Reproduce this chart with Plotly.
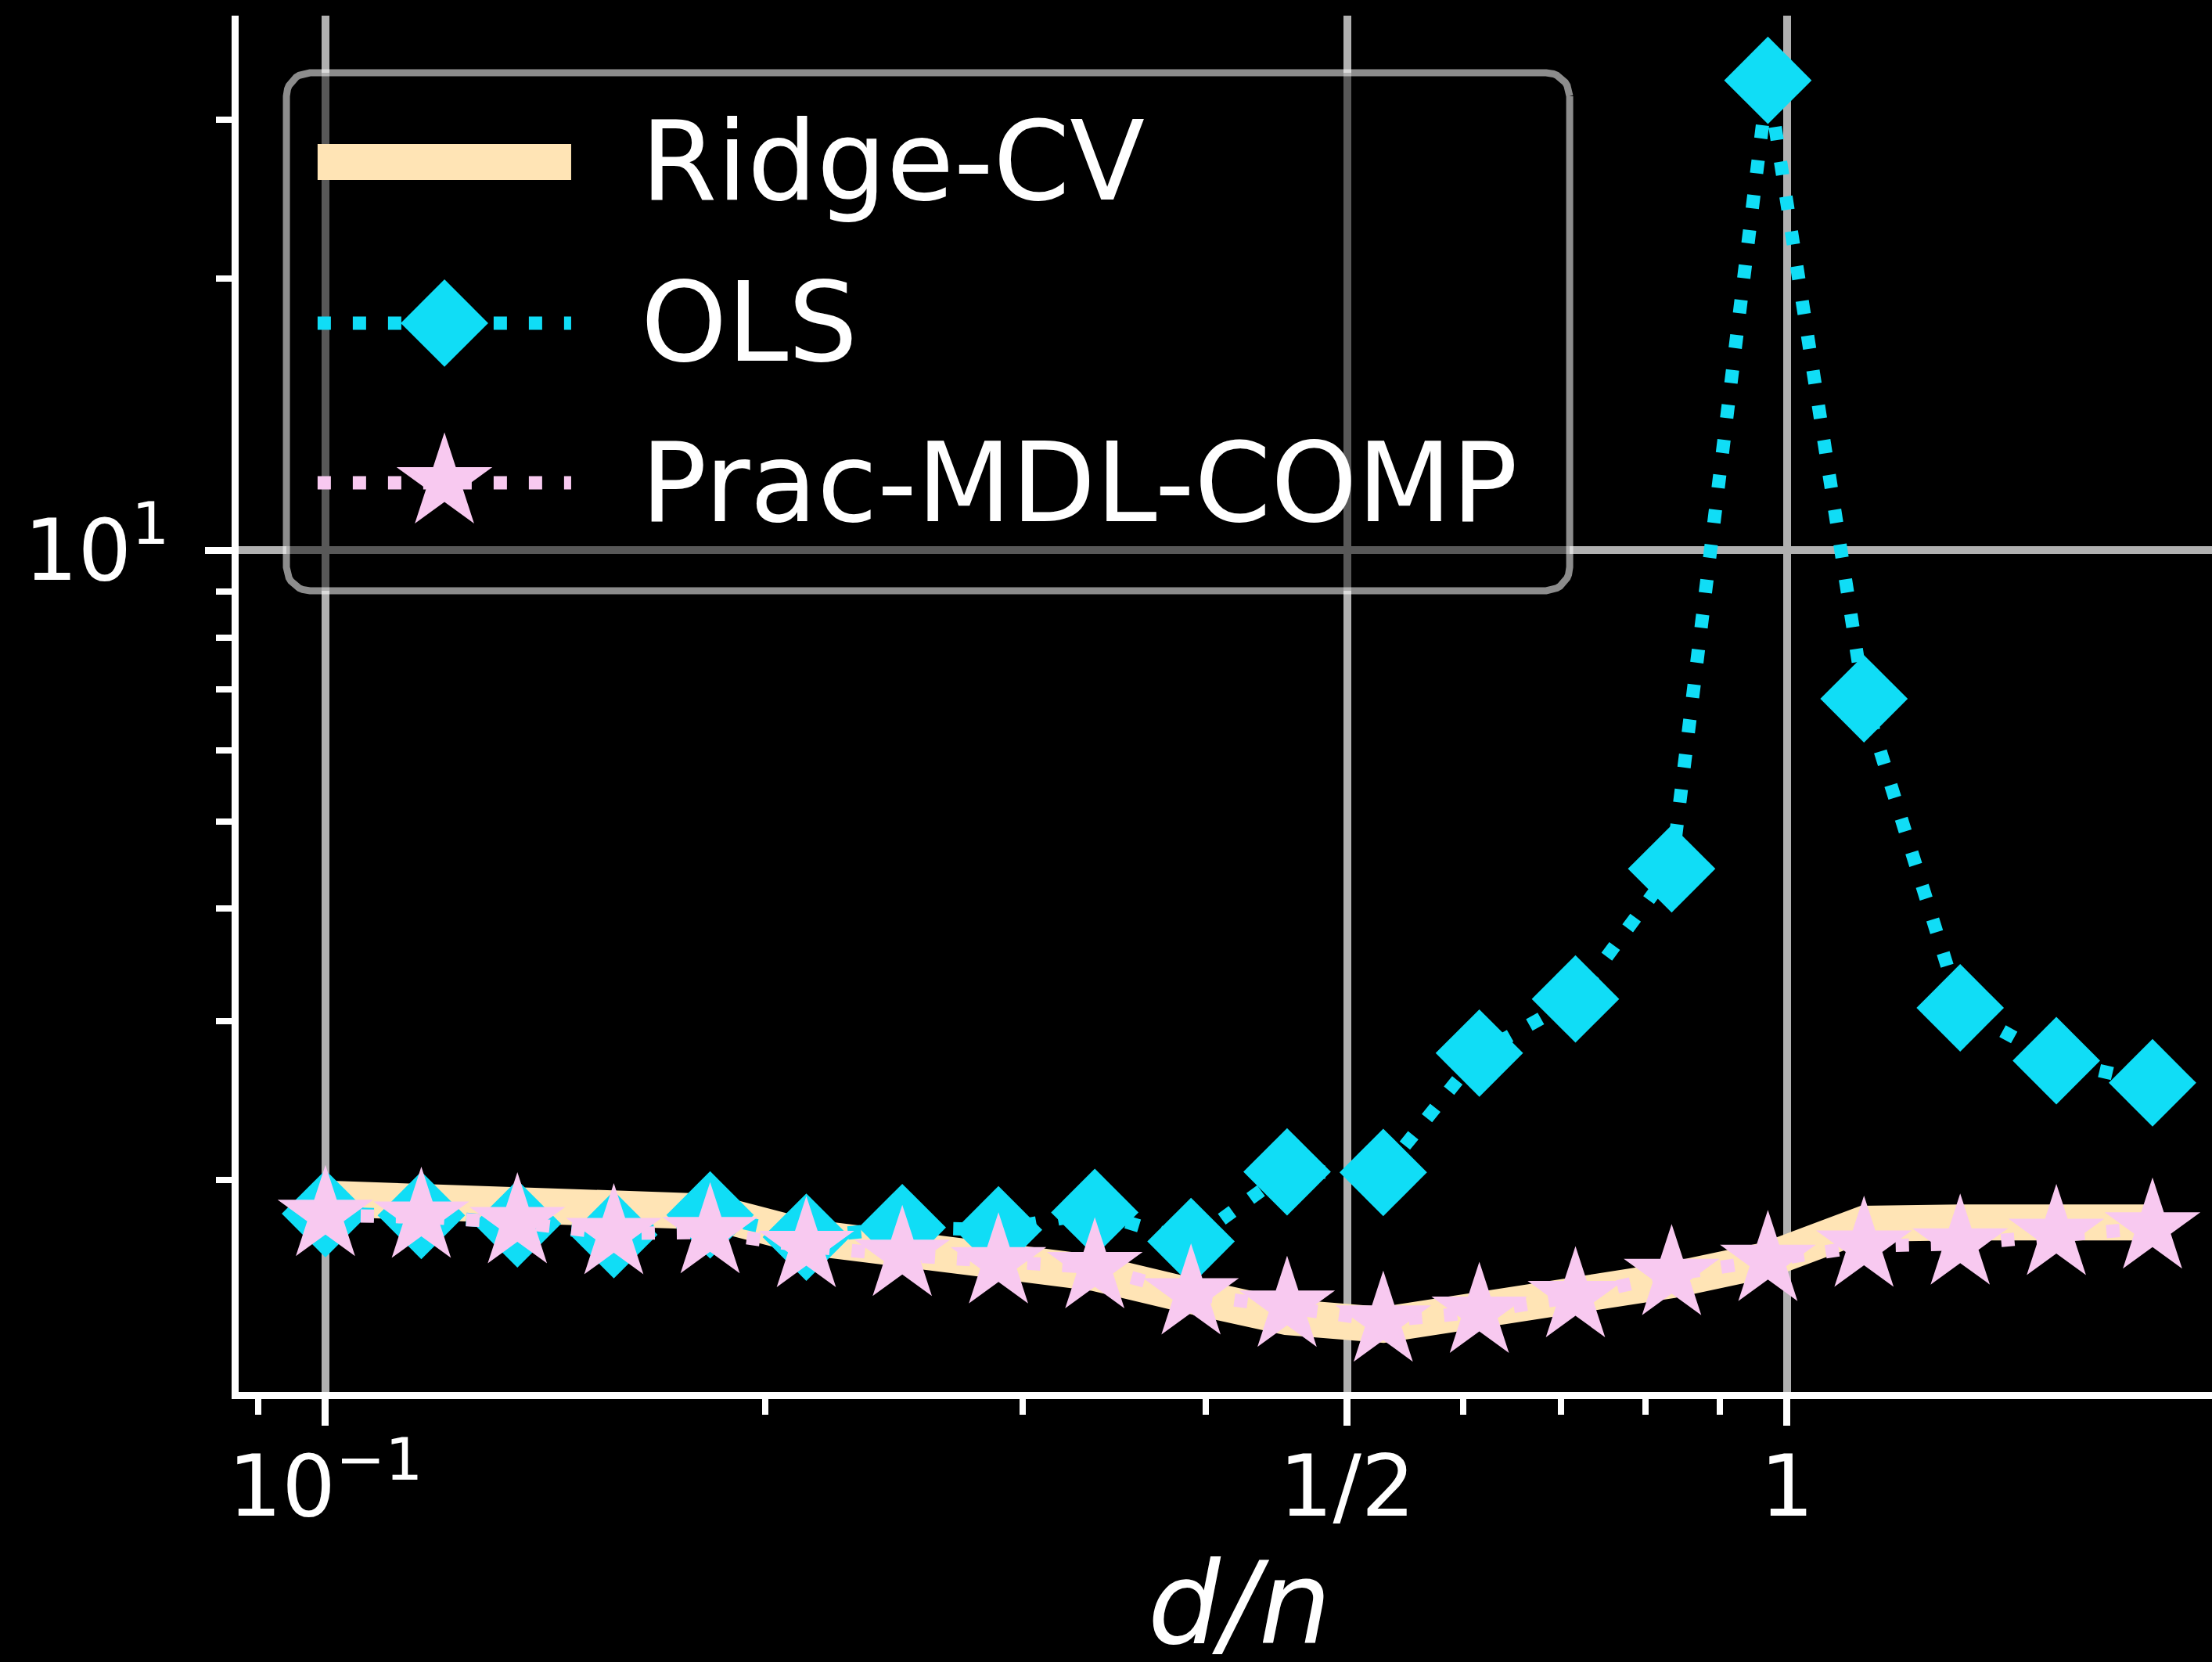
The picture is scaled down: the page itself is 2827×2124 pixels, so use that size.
import math
import plotly.graph_objects as go

# ---------------- data ----------------
d_over_n = [0.1, 0.1163, 0.1353, 0.1575, 0.1833, 0.2133, 0.2481, 0.2887, 0.3360, 0.3910,
            0.4549, 0.5293, 0.6158, 0.7165, 0.8337, 0.9702, 1.1288, 1.3135, 1.5283, 1.7783]
ridge_cv = [1.908, 1.900, 1.858, 1.862, 1.845, 1.730, 1.678, 1.600, 1.578, 1.488,
            1.410, 1.382, 1.430, 1.488, 1.549, 1.632, 1.789, 1.795, 1.795, 1.795]
ols = [1.836, 1.828, 1.789, 1.740, 1.830, 1.729, 1.772, 1.762, 1.842, 1.710,
       2.043, 2.040, 2.767, 3.177, 4.430, 33.2, 6.840, 3.106, 2.714, 2.565]
prac_mdl_comp = [1.828, 1.820, 1.795, 1.745, 1.750, 1.689, 1.651, 1.620, 1.600, 1.496,
                 1.450, 1.396, 1.428, 1.486, 1.572, 1.630, 1.690, 1.700, 1.742, 1.771]
series_names = ["Ridge-CV", "OLS", "Prac-MDL-COMP"]

x_major_ticks = [0.1, 0.5, 1]
x_major_labels = ["10<sup>\u22121</sup>", "1/2", "1"]
x_minor_ticks = [0.09, 0.2, 0.3, 0.4, 0.6, 0.7, 0.8, 0.9]
y_major_ticks = [10]
y_major_labels = ["10<sup>1</sup>"]
y_minor_ticks = [2, 3, 4, 5, 6, 7, 8, 9, 20, 30]
x_label = "<i>d/n</i>"

# ---------------- styles ----------------
W, H = 2827, 2124
FONT = "DejaVu Sans"
RIDGE_C = "#FFE4B5"
OLS_C = "#10DDF6"
PRAC_C = "#F8C9F0"
GRID_C = "#B0B0B0"
DOT_W = 17
DOT = f"{DOT_W}px,{int(DOT_W * 1.65)}px"
RIDGE_W = 46
DIAMOND_SIZE = 86
STAR_SIZE = 92

fig = go.Figure()

fig.add_trace(go.Scatter(x=d_over_n, y=ridge_cv, name=series_names[0], mode="lines",
                         line=dict(color=RIDGE_C, width=RIDGE_W), showlegend=False))
fig.add_trace(go.Scatter(x=d_over_n, y=ols, name=series_names[1], mode="lines+markers",
                         line=dict(color=OLS_C, width=DOT_W, dash=DOT),
                         marker=dict(symbol="diamond", size=DIAMOND_SIZE, color=OLS_C,
                                     line=dict(width=0)),
                         showlegend=False))
fig.add_trace(go.Scatter(x=d_over_n, y=prac_mdl_comp, name=series_names[2], mode="lines+markers",
                         line=dict(color=PRAC_C, width=DOT_W, dash=DOT),
                         marker=dict(symbol="star", size=STAR_SIZE, color=PRAC_C,
                                     line=dict(width=0)),
                         showlegend=False))

# ---------------- custom legend (overlay axes in fractions of the plot area) ----------------
LG_X0, LG_X1, LG_Y0, LG_Y1 = 0.0242, 0.6745, 0.5822, 0.9585
RX, RY = 0.0119, 0.0170


def rounded_frame(x0, x1, y0, y1, rx, ry, n=10):
    xs, ys = [], []
    corners = [(x1 - rx, y1 - ry, 0, 90), (x0 + rx, y1 - ry, 90, 180),
               (x0 + rx, y0 + ry, 180, 270), (x1 - rx, y0 + ry, 270, 360)]
    for cx, cy, a0, a1 in corners:
        for i in range(n + 1):
            a = math.radians(a0 + (a1 - a0) * i / n)
            xs.append(cx + rx * math.cos(a))
            ys.append(cy + ry * math.sin(a))
    xs.append(xs[0])
    ys.append(ys[0])
    return xs, ys


fx, fy = rounded_frame(LG_X0, LG_X1, LG_Y0, LG_Y1, RX, RY)
fig.add_trace(go.Scatter(x=fx, y=fy, xaxis="x2", yaxis="y2", mode="lines", fill="toself",
                         fillcolor="rgba(0,0,0,0.5)",
                         line=dict(color="rgba(255,255,255,0.55)", width=9),
                         showlegend=False, hoverinfo="skip"))

H_X0, H_X1, H_XM = 0.0400, 0.1685, 0.1043
ROW_Y = [0.8937, 0.7766, 0.6606]
TXT_X = 0.2030

fig.add_trace(go.Scatter(x=[H_X0, H_X1], y=[ROW_Y[0]] * 2, xaxis="x2", yaxis="y2", mode="lines",
                         line=dict(color=RIDGE_C, width=RIDGE_W), showlegend=False, hoverinfo="skip"))
fig.add_trace(go.Scatter(x=[H_X0, H_X1], y=[ROW_Y[1]] * 2, xaxis="x2", yaxis="y2", mode="lines",
                         line=dict(color=OLS_C, width=DOT_W, dash=DOT), showlegend=False, hoverinfo="skip"))
fig.add_trace(go.Scatter(x=[H_XM], y=[ROW_Y[1]], xaxis="x2", yaxis="y2", mode="markers",
                         marker=dict(symbol="diamond", size=DIAMOND_SIZE, color=OLS_C, line=dict(width=0)),
                         showlegend=False, hoverinfo="skip"))
fig.add_trace(go.Scatter(x=[H_X0, H_X1], y=[ROW_Y[2]] * 2, xaxis="x2", yaxis="y2", mode="lines",
                         line=dict(color=PRAC_C, width=DOT_W, dash=DOT), showlegend=False, hoverinfo="skip"))
fig.add_trace(go.Scatter(x=[H_XM], y=[ROW_Y[2]], xaxis="x2", yaxis="y2", mode="markers",
                         marker=dict(symbol="star", size=STAR_SIZE, color=PRAC_C, line=dict(width=0)),
                         showlegend=False, hoverinfo="skip"))

for name, yy in zip(series_names, ROW_Y):
    fig.add_annotation(text=name, x=TXT_X, y=yy, xref="x2", yref="y2", xanchor="left",
                       yanchor="middle", showarrow=False,
                       font=dict(family=FONT, size=140, color="white"))

fig.add_annotation(text=x_label, x=0.507, y=-0.104, xref="paper", yref="paper",
                   xanchor="center", yanchor="top", showarrow=False,
                   font=dict(family=FONT, size=146, color="white"))

axis_common = dict(
    type="log", showline=True, linecolor="white", linewidth=9, mirror=False,
    ticks="outside", ticklen=34, tickwidth=9, tickcolor="white",
    showgrid=True, gridcolor=GRID_C, gridwidth=10, zeroline=False,
    tickfont=dict(family=FONT, size=108, color="white"),
)

fig.update_layout(
    width=W, height=H,
    margin=dict(l=305, r=0, t=20, b=345, pad=0),
    paper_bgcolor="black", plot_bgcolor="black",
    font=dict(family=FONT, color="white"),
    showlegend=False,
    xaxis=dict(**axis_common, range=[-1.0594, 0.2907], tickmode="array",
               tickvals=x_major_ticks, ticktext=x_major_labels, ticklabelstandoff=-15,
               minor=dict(tickmode="array", tickvals=x_minor_ticks, ticks="outside",
                          ticklen=20, tickwidth=8, tickcolor="white", showgrid=False)),
    yaxis=dict(**axis_common, range=[0.0660, 1.5929], tickmode="array",
               tickvals=y_major_ticks, ticktext=y_major_labels, ticklabelstandoff=24,
               minor=dict(tickmode="array", tickvals=y_minor_ticks, ticks="outside",
                          ticklen=20, tickwidth=8, tickcolor="white", showgrid=False)),
    xaxis2=dict(overlaying="x", anchor="y2", range=[0, 1], visible=False, fixedrange=True),
    yaxis2=dict(overlaying="y", anchor="x2", range=[0, 1], visible=False, fixedrange=True),
)

fig.write_html("out.html")
